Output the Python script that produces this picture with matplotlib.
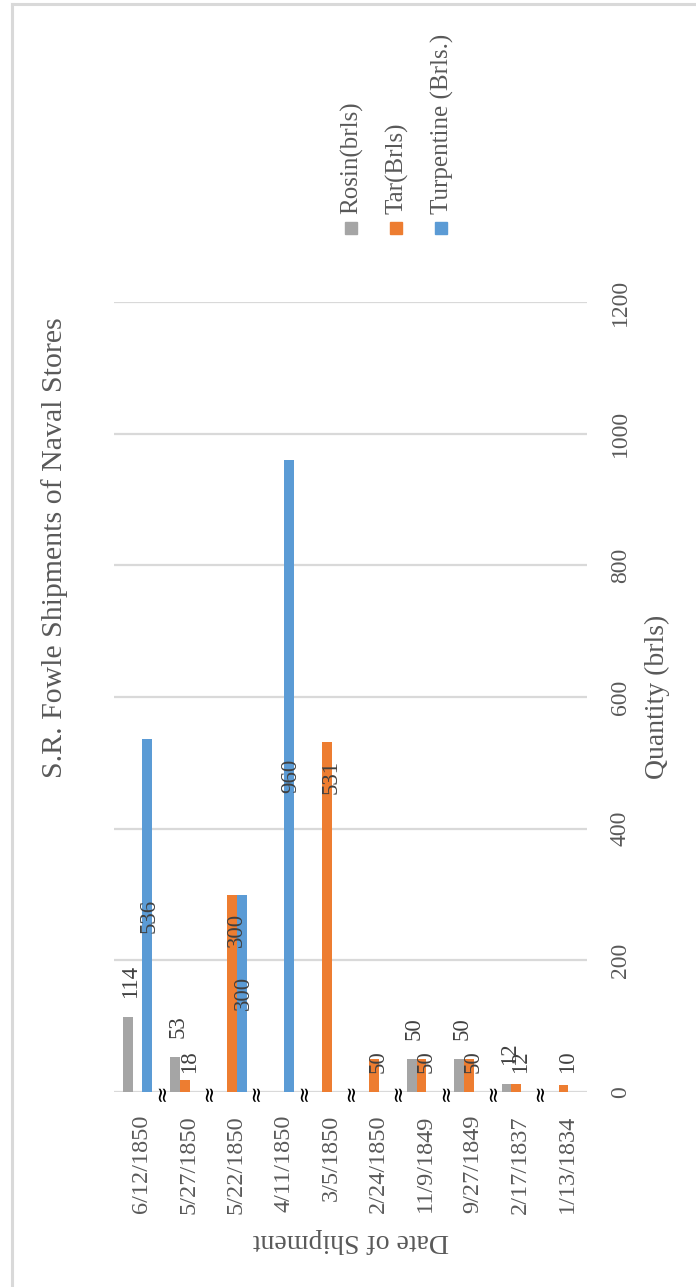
import matplotlib
matplotlib.use("Agg")
import matplotlib.pyplot as plt
from matplotlib.patches import Rectangle
from matplotlib.lines import Line2D
from matplotlib.transforms import ScaledTranslation
import numpy as np

plt.rcParams['font.family'] = ['Liberation Serif', 'DejaVu Serif', 'DejaVu Sans']

# Shipment data
dates = ["6/12/1850", "5/27/1850", "5/22/1850", "4/11/1850", "3/5/1850",
         "2/24/1850", "11/9/1849", "9/27/1849", "2/17/1837", "1/13/1834"]
rosin = [114, 53, 0, 0, 0, 0, 50, 50, 12, 0]
tar = [0, 18, 300, 0, 531, 50, 50, 50, 12, 10]
turpentine = [536, 0, 300, 960, 0, 0, 0, 0, 0, 0]
series_names = ["Rosin(brls)", "Tar(Brls)", "Turpentine (Brls.)"]
series_colors = ["#A5A5A5", "#ED7D31", "#5B9BD5"]
value_ticks = [0, 200, 400, 600, 800, 1000, 1200]

TEXT = "#595959"
LABEL = "#404040"
GRID = "#D9D9D9"

W, H = 696, 1287
fig = plt.figure(figsize=(W / 100, H / 100), dpi=100)

# Axes area in pixel terms
left, right, base, top = 114, 587, 1092, 302
ax = fig.add_axes([left / W, 1 - base / H, (right - left) / W, (base - top) / H])

x = np.arange(len(dates))
bw = 0.205
series = [rosin, tar, turpentine]
for k, (vals, col) in enumerate(zip(series, series_colors)):
    ax.bar(x + (k - 1) * bw, vals, width=bw, color=col, zorder=2)

ax.set_xlim(-0.5, len(dates) - 0.5)
ax.set_ylim(0, 1200)
ax.set_yticks(value_ticks)
ax.yaxis.grid(True, color=GRID, linewidth=1.6, zorder=0)
ax.set_axisbelow(True)
for s in ax.spines.values():
    s.set_visible(False)

# Category labels
ax.set_xticks(x)
ax.set_xticklabels(dates)
ax.tick_params(axis='x', length=0, pad=16.5, labelrotation=90, labelsize=17.5,
               labelcolor=TEXT)
shift = ScaledTranslation(3 / 72, 0, fig.dpi_scale_trans)
for lbl in ax.get_xticklabels():
    lbl.set_transform(lbl.get_transform() + shift)

# Value labels on the right side
ax.yaxis.tick_right()
ax.tick_params(axis='y', length=0, pad=24, labelrotation=90, labelsize=17,
               labelcolor=TEXT)
for lbl in ax.get_yticklabels():
    lbl.set_horizontalalignment('center')
    lbl.set_verticalalignment('center')

# Axis titles
ax.yaxis.set_label_position('right')
ax.set_ylabel("Quantity (brls)", fontsize=20, color=TEXT, rotation=90)
ax.yaxis.label.set_verticalalignment('center')
ax.yaxis.label.set_horizontalalignment('center')
ax.yaxis.set_label_coords(1.148, 0.5)

ax.set_xlabel("Date of Shipment", fontsize=20, color=TEXT, rotation=180)
ax.xaxis.label.set_verticalalignment('center')
ax.xaxis.set_label_coords(0.5, -0.188)

# Break marks between categories on the baseline
for b in x[:-1] + 0.5:
    ax.text(b, 0, "\u2248", rotation=90, ha='center', va='center',
            fontsize=15, color='black', zorder=4,
            family=['DejaVu Sans'])

# Data labels
lab_kw = dict(rotation=90, fontsize=16.5, color=LABEL, ha='center',
              textcoords='offset points', zorder=5)
for xi, v in zip(x - bw, rosin):
    if v:
        ax.annotate(f"{v}", (xi, v), xytext=(2, 14), va='bottom', **lab_kw)
for xi, v in zip(x, tar):
    if v:
        if v > 100:
            ax.annotate(f"{v}", (xi, v), xytext=(3, -13), va='top', **lab_kw)
        else:
            ax.annotate(f"{v}", (xi, 0), xytext=(3, 14), va='bottom', **lab_kw)
for xi, v in zip(x + bw, turpentine):
    if v:
        ax.annotate(f"{v}", (xi, v / 2), xytext=(1, 0), va='center', **lab_kw)

# Title
fig.text(55 / W, 1 - 548 / H, "S.R. Fowle Shipments of Naval Stores",
         rotation=90, ha='center', va='center', fontsize=21.5, color=TEXT)

# Legend
for k, (name, col) in enumerate(zip(series_names, series_colors)):
    cx = 351 + 45 * k
    fig.patches.append(Rectangle(((cx - 6) / W, 1 - 234 / H), 12 / W, 12 / H,
                                 transform=fig.transFigure, color=col))
    fig.text((cx + 1) / W, 1 - 214 / H, name, rotation=90, ha='center',
             va='bottom', fontsize=18, color=TEXT)

# Chart frame
fig.add_artist(Line2D([12 / W, 12 / W], [0, 1 - 4 / H], transform=fig.transFigure,
                      color=GRID, linewidth=2.2))
fig.add_artist(Line2D([12 / W, 1], [1 - 4 / H, 1 - 4 / H], transform=fig.transFigure,
                      color=GRID, linewidth=2.2))

fig.savefig("out.png", dpi=100, facecolor='white')
